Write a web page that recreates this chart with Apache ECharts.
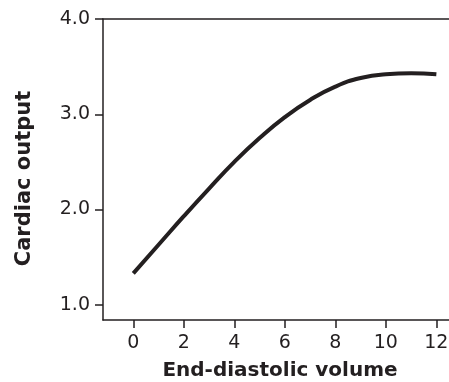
<!DOCTYPE html>
<html>
<head>
<meta charset="utf-8">
<script src="https://cdn.jsdelivr.net/npm/echarts@6/dist/echarts.min.js"></script>
<style>
  html, body { margin: 0; padding: 0; background: #fff; }
  #chart { width: 449px; height: 382px; }
</style>
</head>
<body>
<div id="chart"></div>
<script>
  // values
  var volume = [0, 1, 2, 3, 4, 5, 6, 7, 8, 9, 10, 11, 12];
  var output = [1.33, 1.63, 1.93, 2.22, 2.50, 2.75, 2.97, 3.15, 3.29, 3.38, 3.42, 3.43, 3.42];
  var xTicks = [0, 2, 4, 6, 8, 10, 12];
  var yTicks = [1, 2, 3, 4];

  var ink = '#231f20';
  var font = 'DejaVu Sans';
  var chart = echarts.init(document.getElementById('chart'));

  chart.setOption({
    animation: false,
    grid: { left: 103, right: 0, top: 19, bottom: 62, outerBoundsMode: 'none' },
    xAxis: [{
      type: 'value',
      min: -1.2,
      max: 12.5,
      name: 'End-diastolic volume',
      nameLocation: 'middle',
      nameGap: 41,
      nameTextStyle: { fontFamily: font, fontSize: 20, fontWeight: 'bold', color: ink, padding: [0, 0, 0, 8] },
      splitLine: { show: false },
      axisLine: { onZero: false, lineStyle: { color: ink, width: 1.5 } },
      axisTick: { customValues: xTicks, length: 8, lineStyle: { color: ink, width: 1.5 } },
      axisLabel: { customValues: xTicks, margin: 14, fontFamily: font, fontSize: 19, color: ink }
    }, {
      // plain top border line
      type: 'value',
      position: 'top',
      min: -1.2,
      max: 12.5,
      splitLine: { show: false },
      axisLine: { show: true, onZero: false, lineStyle: { color: ink, width: 1.5 } },
      axisTick: { show: false },
      axisLabel: { show: false }
    }],
    yAxis: {
      type: 'value',
      min: 0.84,
      max: 4.0,
      name: 'Cardiac output',
      nameLocation: 'middle',
      nameGap: 68,
      nameTextStyle: { fontFamily: font, fontSize: 21, fontWeight: 'bold', color: ink, padding: [0, 18, 0, 0] },
      splitLine: { show: false },
      axisLine: { show: true, onZero: false, lineStyle: { color: ink, width: 1.5 } },
      axisTick: { customValues: yTicks, length: 8, lineStyle: { color: ink, width: 1.5 } },
      axisLabel: {
        customValues: yTicks, margin: 13,
        fontFamily: font, fontSize: 19, color: ink,
        formatter: function (v) { return v.toFixed(1); }
      }
    },
    series: [{
      type: 'line',
      data: volume.map(function (v, i) { return [v, output[i]]; }),
      smooth: true,
      showSymbol: false,
      lineStyle: { color: ink, width: 4 }
    }]
  });
</script>
</body>
</html>
